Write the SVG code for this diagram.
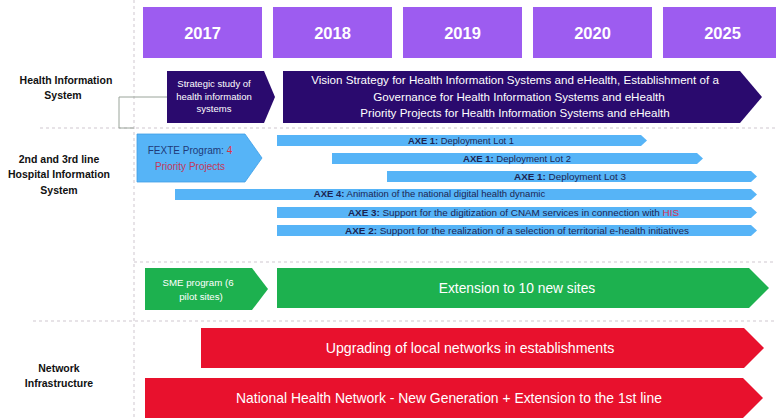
<svg xmlns="http://www.w3.org/2000/svg" width="776" height="418" viewBox="0 0 776 418">
  <style>
    text { font-family: "Liberation Sans", Arial, sans-serif; }
    .year { fill: #9D5CF0; }
    .year-t { fill: #ffffff; font-size: 16.5px; font-weight: bold; text-anchor: middle; }
    .lane { fill: #111111; font-size: 10.5px; font-weight: bold; text-anchor: middle; }
    .divider { stroke: #cfc7cf; stroke-width: 1; stroke-dasharray: 3 3; fill: none; }
    .link { stroke: #9aa49a; stroke-width: 1; fill: none; }
    .dark { fill: #2A0A6E; }
    .light { fill: #56B4F7; }
    .green { fill: #1DB14F; }
    .red { fill: #E8112D; }
    .wt { fill: #ffffff; text-anchor: middle; }
    .bar-t { fill: #1b2452; font-size: 9.5px; text-anchor: middle; }
    .axe { font-weight: bold; }
    .hl { fill: #d6304d; }
  </style>

  <!-- section dividers -->
  <g id="dividers">
    <line class="divider" x1="134" y1="0" x2="134" y2="418"/>
    <line class="divider" x1="40" y1="128" x2="776" y2="128"/>
    <line class="divider" x1="134" y1="262" x2="776" y2="262"/>
    <line class="divider" x1="33" y1="321" x2="776" y2="321"/>
  </g>

  <!-- year header -->
  <g id="years">
    <g id="y2017"><rect class="year" x="143" y="7" width="119" height="51"/><text class="year-t" x="202.5" y="39">2017</text></g>
    <g id="y2018"><rect class="year" x="273" y="7" width="119" height="51"/><text class="year-t" x="332.5" y="39">2018</text></g>
    <g id="y2019"><rect class="year" x="403" y="7" width="119" height="51"/><text class="year-t" x="462.5" y="39">2019</text></g>
    <g id="y2020"><rect class="year" x="533" y="7" width="119" height="51"/><text class="year-t" x="592.5" y="39">2020</text></g>
    <g id="y2025"><rect class="year" x="663" y="7" width="119" height="51"/><text class="year-t" x="722.5" y="39">2025</text></g>
  </g>

  <!-- lane titles -->
  <g id="lane-his">
    <text class="lane" font-size="11.6" x="66" y="84">Health Information</text>
    <text class="lane" font-size="11.6" x="63" y="99">System</text>
  </g>
  <g id="lane-hospital">
    <text class="lane" x="59" y="163">2nd and 3rd line</text>
    <text class="lane" x="59" y="178">Hospital Information</text>
    <text class="lane" x="59" y="194">System</text>
  </g>
  <g id="lane-network">
    <text class="lane" font-size="11.2" x="59" y="372">Network</text>
    <text class="lane" font-size="11.2" x="59" y="387">Infrastructure</text>
  </g>

  <!-- connectors -->
  <g id="connectors">
    <polyline class="link" points="167,97 119,97 119,128 134,128"/>
  </g>

  <!-- Health Information System lane -->
  <g id="strategic-study">
    <polygon class="dark" points="167,71 264,71 275,97 264,123 167,123"/>
    <text class="wt" font-size="9.5" x="214" y="87">Strategic study of</text>
    <text class="wt" font-size="9.5" x="214" y="100">health information</text>
    <text class="wt" font-size="9.5" x="214" y="112">systems</text>
  </g>
  <g id="vision-strategy">
    <polygon class="dark" points="283,71 740,71 762,97 740,123 283,123"/>
    <text class="wt" font-size="11.6" x="515" y="84">Vision Strategy for Health Information Systems and eHealth, Establishment of a</text>
    <text class="wt" font-size="11.6" x="519" y="101">Governance for Health Information Systems and eHealth</text>
    <text class="wt" font-size="11.6" x="515" y="117">Priority Projects for Health Information Systems and eHealth</text>
  </g>

  <!-- Hospital Information System lane -->
  <g id="fexte">
    <polygon class="light" stroke="#3f9ee6" stroke-width="0.8" points="137,134 245,134 262,158 245,182 137,182"/>
    <text font-size="10" x="190" y="154" text-anchor="middle"><tspan fill="#1f3a78">FEXTE Program: </tspan><tspan fill="#e0303f">4</tspan></text>
    <text font-size="10" x="190" y="170" text-anchor="middle" fill="#c4385a">Priority Projects</text>
  </g>
  <g id="axe1-lot1">
    <polygon class="light" points="277,135 641,135 647,140.5 641,146 277,146"/>
    <text class="bar-t" x="461" y="143.8" textLength="106" lengthAdjust="spacingAndGlyphs"><tspan class="axe">AXE 1:</tspan> Deployment Lot 1</text>
  </g>
  <g id="axe1-lot2">
    <polygon class="light" points="332,153 697,153 703,158.5 697,164 332,164"/>
    <text class="bar-t" x="517" y="161.8" textLength="108" lengthAdjust="spacingAndGlyphs"><tspan class="axe">AXE 1:</tspan> Deployment Lot 2</text>
  </g>
  <g id="axe1-lot3">
    <polygon class="light" points="387,171 751,171 757,176.5 751,182 387,182"/>
    <text class="bar-t" x="570" y="179.8" textLength="112" lengthAdjust="spacingAndGlyphs"><tspan class="axe">AXE 1:</tspan>  Deployment Lot 3</text>
  </g>
  <g id="axe4">
    <polygon class="light" points="175,189 751,189 757,194.5 751,200 175,200"/>
    <text class="bar-t" font-size="8" x="429.5" y="197.3"><tspan class="axe">AXE 4:</tspan> Animation of the national digital health dynamic</text>
  </g>
  <g id="axe3">
    <polygon class="light" points="277,207 751,207 757,212.5 751,218 277,218"/>
    <text class="bar-t" x="513.5" y="215.8" textLength="331" lengthAdjust="spacingAndGlyphs"><tspan class="axe">AXE 3:</tspan> Support for the digitization of CNAM services in connection with <tspan class="hl">HIS</tspan></text>
  </g>
  <g id="axe2">
    <polygon class="light" points="277,225 751,225 757,230.5 751,236 277,236"/>
    <text class="bar-t" x="517" y="233.8" textLength="344" lengthAdjust="spacingAndGlyphs"><tspan class="axe">AXE 2:</tspan> Support for the realization of a selection of territorial e-health initiatives</text>
  </g>

  <!-- SME programme -->
  <g id="sme-pilot">
    <polygon class="green" points="145,268 252,268 268,289 252,310 145,310"/>
    <text class="wt" font-size="9.7" x="198" y="286">SME program (6</text>
    <text class="wt" font-size="9.7" x="201" y="300">pilot sites)</text>
  </g>
  <g id="sme-extension">
    <polygon class="green" points="277,268 749,268 769,288 749,308 277,308"/>
    <text class="wt" font-size="13.8" x="517" y="293">Extension to 10 new sites</text>
  </g>

  <!-- Network Infrastructure lane -->
  <g id="local-networks">
    <polygon class="red" points="201,328 744,328 764,348 744,368 201,368"/>
    <text class="wt" font-size="14.2" x="470" y="353">Upgrading of local networks in establishments</text>
  </g>
  <g id="national-network">
    <polygon class="red" points="145,378 743,378 763,398 743,418 145,418"/>
    <text class="wt" font-size="13.9" x="449" y="403">National Health Network - New Generation + Extension to the 1st line</text>
  </g>
</svg>
